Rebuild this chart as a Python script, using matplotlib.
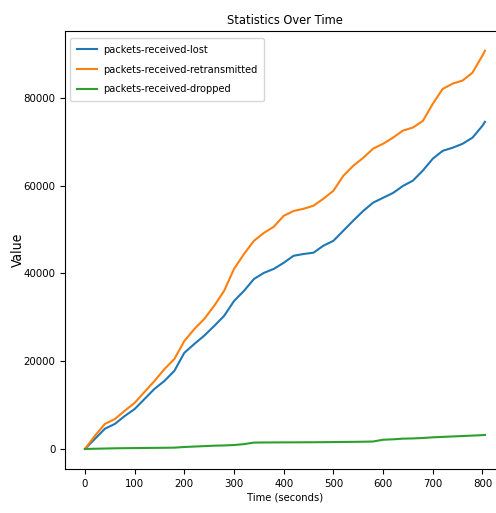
import matplotlib
matplotlib.use("Agg")
import matplotlib.pyplot as plt
from matplotlib import font_manager

# the reference text is narrow: use the condensed DejaVu face when it is installed
faces = {(f.name, f.stretch) for f in font_manager.fontManager.ttflist}
if ("DejaVu Sans", "condensed") in faces:
    plt.rcParams["font.stretch"] = "condensed"

time_s = [0, 20, 40, 60, 80, 100, 120, 140, 160, 180, 200, 220, 240, 260, 280,
          300, 320, 340, 360, 380, 400, 420, 440, 460, 480, 500, 520, 540, 560,
          580, 600, 620, 640, 660, 680, 700, 720, 740, 760, 780, 800, 805]

lost = [0, 2300, 4600, 5700, 7500, 9100, 11400, 13700, 15500, 17800, 21900,
        23900, 25800, 28000, 30300, 33700, 36000, 38700, 40100, 41000, 42400,
        44000, 44400, 44700, 46300, 47400, 49700, 52000, 54200, 56100, 57200,
        58300, 59900, 61100, 63400, 66100, 67900, 68600, 69500, 70900, 73600,
        74500]

retransmitted = [0, 3000, 5700, 6800, 8700, 10500, 13000, 15500, 18200, 20500,
                 24600, 27300, 29600, 32600, 36000, 41000, 44400, 47400, 49200,
                 50600, 53100, 54200, 54700, 55400, 57000, 58800, 62200, 64500,
                 66300, 68400, 69500, 70900, 72500, 73200, 74700, 78600, 82000,
                 83200, 83900, 85700, 89600, 90700]

dropped = [0, 50, 100, 150, 180, 200, 230, 250, 270, 300, 450, 550, 650, 750,
           800, 900, 1100, 1450, 1480, 1490, 1500, 1510, 1520, 1530, 1550, 1570,
           1600, 1620, 1650, 1700, 2100, 2200, 2350, 2400, 2500, 2650, 2750,
           2850, 2950, 3050, 3150, 3200]

fig = plt.figure(figsize=(4.96, 5.13), dpi=100)
ax = fig.add_axes([0.131, 0.086, 0.887, 0.854])

ax.plot(time_s, lost, label="packets-received-lost")
ax.plot(time_s, retransmitted, label="packets-received-retransmitted")
ax.plot(time_s, dropped, label="packets-received-dropped")

ax.set_title("Statistics Over Time", fontsize=9.2, pad=5)
ax.set_xlabel("Time (seconds)", fontsize=8, labelpad=3)
ax.set_ylabel("Value", fontsize=10, labelpad=-1)
ax.set_xticks(range(0, 801, 100))
ax.tick_params(labelsize=8.2)
ax.legend(loc="upper left", fontsize=7.8, bbox_to_anchor=(0.011, 0.984),
          borderaxespad=0, borderpad=0.65, labelspacing=0.9,
          handletextpad=0.5, handlelength=1.9)

fig.savefig("out.png", dpi=100)
